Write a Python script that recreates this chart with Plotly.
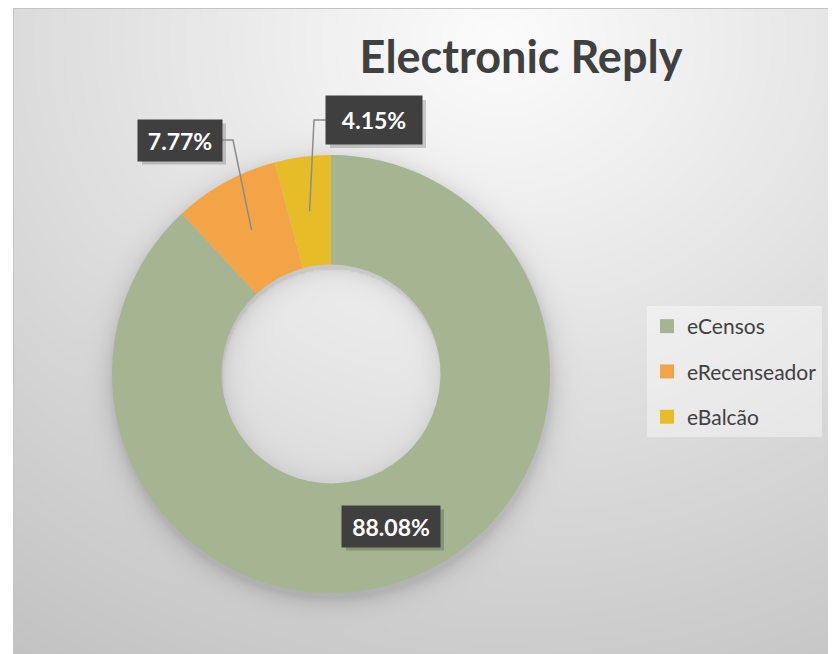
import base64
import math
import struct
import zlib

import numpy as np
import plotly.graph_objects as go

# ---------------- data ----------------
categories = ["eCensos", "eRecenseador", "eBalcão"]
values = [88.08, 7.77, 4.15]
label_texts = ["88.08%", "7.77%", "4.15%"]
colors = ["#A5B592", "#F3A447", "#E7BC29"]
title_text = "Electronic Reply"

# ---------------- geometry / style (page pixel coordinates) ----------------
PW, PH = 836, 654          # page size
OFF = 8                    # body margin of the html page
FW, FH = PW - OFF, PH - OFF  # figure size
CX, CY, R = 331, 374, 219
HOLE = 0.5
AX0, AY0 = 13, 8           # chart-area top-left corner
FONT = "Lato"
DARK = "#404040"


def px(x):
    return (x - OFF) / FW


def py(y):
    return 1 - (y - OFF) / FH


# label boxes: centre (px), width, height (px)
label_boxes = [
    dict(cx=391, cy=526, w=98, h=41, leader=False),
    dict(cx=180, cy=140, w=84, h=41, leader=True, side="right"),
    dict(cx=374, cy=120, w=96, h=48, leader=True, side="left"),
]


def png_gray(arr):
    h, w = arr.shape
    raw = b"".join(b"\x00" + arr[i].tobytes() for i in range(h))

    def chunk(t, d):
        c = struct.pack(">I", len(d)) + t + d
        return c + struct.pack(">I", zlib.crc32(t + d) & 0xFFFFFFFF)

    return (b"\x89PNG\r\n\x1a\n"
            + chunk(b"IHDR", struct.pack(">IIBBBBB", w, h, 8, 0, 0, 0, 0))
            + chunk(b"IDAT", zlib.compress(raw, 9))
            + chunk(b"IEND", b""))


# background: radial gradient with soft shadow around the ring
S = 2
bw, bh = (PW - AX0) // S + 1, (PH - AY0) // S + 1
xs = AX0 + np.arange(bw) * S
ys = AY0 + np.arange(bh) * S
X, Y = np.meshgrid(xs, ys)
d = np.hypot((X - 500) * 0.85, (Y - 40))
v = 252 - 0.078 * d
rr = np.hypot(X - CX, Y - (CY + 4))
outer = np.where(rr > R, 30 * np.exp(-(rr - R) / 9.0), 30)
inner = np.where(rr < R * HOLE, 22 * np.exp(-(R * HOLE - rr) / 10.0), 0)
hole_light = np.where(rr < R * HOLE, 6, 0)
v = v - outer * (rr > R * HOLE) - inner + hole_light
arr = np.clip(v, 0, 255).astype(np.uint8)
bg_src = "data:image/png;base64," + base64.b64encode(png_gray(arr)).decode()

fig = go.Figure()

fig.add_trace(go.Pie(
    labels=categories,
    values=values,
    hole=HOLE,
    sort=False,
    direction="clockwise",
    rotation=0,
    marker=dict(colors=colors, line=dict(width=0)),
    textinfo="none",
    showlegend=False,
    domain=dict(x=[px(CX - R), px(CX + R)], y=[py(CY + R), py(CY - R)]),
))

# legend entries
for cat, col in zip(categories, colors):
    fig.add_trace(go.Scatter(
        x=[None], y=[None], mode="markers", name=cat,
        marker=dict(symbol="square", size=14, color=col),
        legendgroup=cat, hoverinfo="skip",
    ))

shapes = []
annotations = []

# chart border
shapes.append(dict(type="rect", xref="x", yref="y", x0=AX0 + 0.5, y0=AY0 + 0.5,
                   x1=PW + 5, y1=PH + 5, line=dict(color="#c4c4c4", width=1),
                   fillcolor="rgba(0,0,0,0)", layer="above"))

total = float(sum(values))
cum = 0.0
for val, txt, box in zip(values, label_texts, label_boxes):
    mid = (cum + val / 2) / total
    cum += val
    ang = 2 * math.pi * mid
    rm = R * (1 + HOLE) / 2
    tx = CX + rm * math.sin(ang)
    ty = CY - rm * math.cos(ang)
    bx0, bx1 = box["cx"] - box["w"] / 2, box["cx"] + box["w"] / 2
    by0, by1 = box["cy"] - box["h"] / 2, box["cy"] + box["h"] / 2
    # shadow
    shapes.append(dict(type="rect", xref="x", yref="y", x0=bx0 + 4, y0=by0 + 4,
                       x1=bx1 + 4, y1=by1 + 4, line=dict(width=0),
                       fillcolor="rgba(0,0,0,0.18)", layer="above"))
    if box["leader"]:
        if box["side"] == "right":
            ex, ey = bx1, box["cy"]
            elx = bx1 + 11
        else:
            ex, ey = bx0, box["cy"]
            elx = bx0 - 12
        shapes.append(dict(type="path", xref="x", yref="y",
                           path=f"M{ex},{ey} L{elx},{ey} L{tx:.1f},{ty:.1f}",
                           line=dict(color="#8c8c8c", width=1.5), layer="above"))
    annotations.append(dict(
        x=box["cx"], y=box["cy"], xref="x", yref="y", text=txt, showarrow=False,
        font=dict(family=FONT, size=23, color="white", weight="bold"),
        bgcolor="#3f3f3f", borderpad=0, width=box["w"], height=box["h"],
        align="center", valign="middle",
    ))

fig.update_layout(
    width=FW, height=FH,
    margin=dict(l=0, r=0, t=0, b=0),
    paper_bgcolor="white",
    plot_bgcolor="rgba(0,0,0,0)",
    xaxis=dict(range=[OFF, OFF + FW], visible=False, domain=[0, 1], fixedrange=True),
    yaxis=dict(range=[OFF + FH, OFF], visible=False, domain=[0, 1], fixedrange=True),
    title=dict(text=title_text, x=px(521), y=py(57), xanchor="center",
               yanchor="middle", xref="paper", yref="paper",
               font=dict(family=FONT, size=45, color=DARK, weight="bold")),
    legend=dict(x=px(647), y=py(306), xanchor="left", yanchor="top",
                bgcolor="rgba(255,255,255,0.4)", borderwidth=0,
                font=dict(family=FONT, size=21, color=DARK),
                tracegroupgap=15, itemclick=False, itemdoubleclick=False),
    images=[dict(source=bg_src, xref="paper", yref="paper", x=px(AX0), y=py(AY0),
                 sizex=(bw * S) / FW, sizey=(bh * S) / FH, xanchor="left", yanchor="top",
                 sizing="stretch", layer="below")],
    shapes=shapes,
    annotations=annotations,
    showlegend=True,
)

fig.write_html("out.html")
